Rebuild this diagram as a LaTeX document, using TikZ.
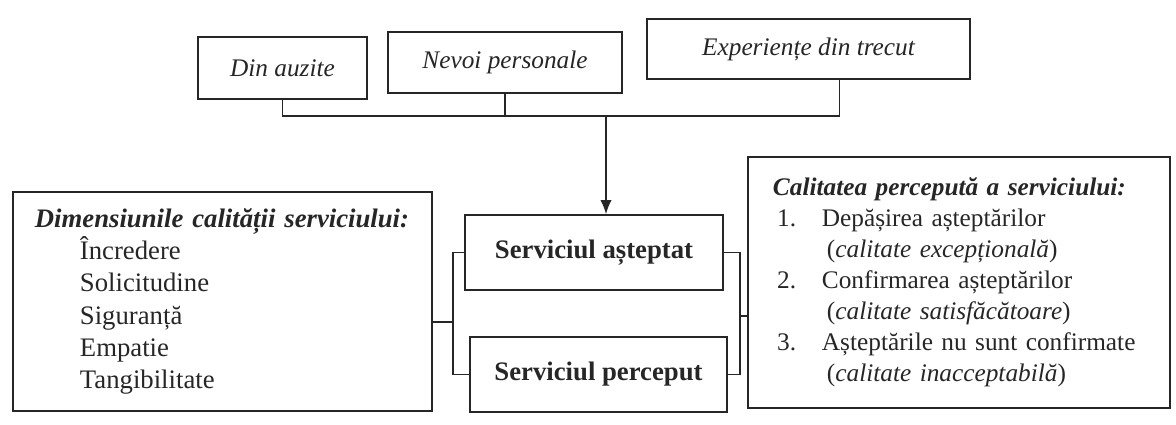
\documentclass[tikz,border=0pt]{standalone}
\usepackage{fontspec}
\setmainfont{Liberation Serif}
\usetikzlibrary{arrows.meta}

\begin{document}
\begin{tikzpicture}[x=0.025cm,y=-0.025cm,line width=1pt,draw=black!85,text=black!85,
        box/.style={draw,line width=1.2pt,inner sep=0pt,font=\fontsize{18}{22}\selectfont},
        listbox/.style={draw,line width=1.2pt,inner ysep=0pt,align=left}]
        \useasboundingbox (0,0) rectangle (1176,425);

        \node[box,minimum width=4.225cm,minimum height=1.55cm] (auzite) at (282.5,68) {\itshape Din auzite};
        \node[box,minimum width=5.85cm,minimum height=1.525cm] (nevoi) at (505,62.5) {\itshape Nevoi personale};
        \node[box,minimum width=8.075cm,minimum height=1.5cm] (trecut) at (808.5,49) {\itshape Experiențe din trecut};

        \node[box,minimum width=6.45cm,minimum height=1.875cm,font=\fontsize{19}{22}\selectfont] (asteptat) at (594,252.5) {\bfseries Serviciul așteptat};
        \node[box,minimum width=6.425cm,minimum height=1.875cm,font=\fontsize{19}{22}\selectfont] (perceput) at (598.5,374.5) {\bfseries Serviciul perceput};

        \node[listbox,text width=9.375cm,inner xsep=0.55cm,minimum height=5.475cm,
            font=\fontsize{19}{23}\selectfont] (dimens) at (222.5,301.5) {%
            \textbf{\textit{Dimensiunile calității serviciului:}}\\
            \hspace*{1.125cm}Încredere\\
            \hspace*{1.125cm}Solicitudine\\
            \hspace*{1.125cm}Siguranță\\
            \hspace*{1.125cm}Empatie\\
            \hspace*{1.125cm}Tangibilitate};

        \node[listbox,text width=9.3cm,inner xsep=0.625cm,minimum height=6.275cm,
            font=\fontsize{18}{22}\selectfont] (calitate) at (959,282.5) {%
            \textbf{\textit{Calitatea percepută a serviciului:}}\\
            \makebox[1.225cm][l]{\,1.}Depășirea așteptărilor\\
            \hspace*{1.35cm}(\textit{calitate excepțională})\\
            \makebox[1.225cm][l]{\,2.}Confirmarea așteptărilor\\
            \hspace*{1.35cm}(\textit{calitate satisfăcătoare})\\
            \makebox[1.225cm][l]{\,3.}Așteptările nu sunt confirmate\\
            \hspace*{1.35cm}(\textit{calitate inacceptabilă})};

        \coordinate (bus) at (606,116);
        \draw (auzite.south) |- (bus) -| ([xshift=0.775cm]trecut.south);
        \draw (nevoi.south) -- (nevoi.south |- bus);
        \draw[-{Latex[length=10pt,width=8pt]}] (bus) -- (bus |- asteptat.north);

        \coordinate (lb) at (453,322);
        \draw (asteptat.west) -| (lb) |- (perceput.west);
        \draw (dimens.east |- lb) -- (lb);

        \coordinate (rb) at (740,316);
        \draw (asteptat.east) -| (rb) |- (perceput.east);
        \draw (rb) -- (calitate.west |- rb);
    \end{tikzpicture}
\end{document}
